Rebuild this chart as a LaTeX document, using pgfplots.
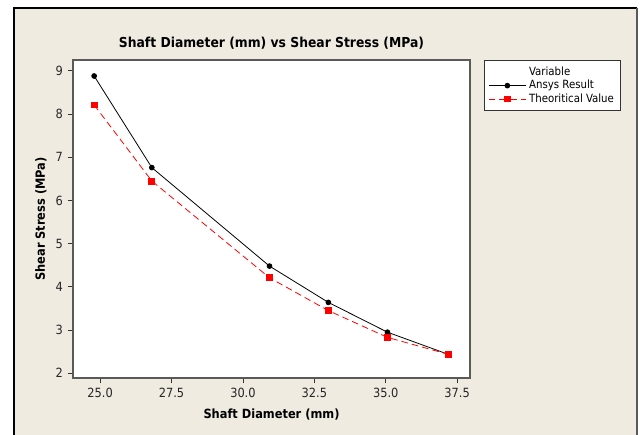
\documentclass[border=0pt]{standalone}
\usepackage{fontspec}
\setmainfont{DejaVu Sans Condensed}
\usepackage{pgfplots}
\pgfplotsset{compat=1.18}
\definecolor{bgc}{RGB}{239,235,225}
\definecolor{framec}{RGB}{90,90,90}

\begin{document}
\begin{tikzpicture}
% page and beige panel (1px = 0.75pt)
\fill[white] (0pt,0pt) rectangle (482.25pt,326.25pt);
\fill[bgc] (10.5pt,0pt) rectangle (477.75pt,320.25pt);
\draw[black,line width=0.8pt] (10.5pt,0pt) -- (10.5pt,320.25pt) -- (477.75pt,320.25pt);
\draw[framec,line width=1.5pt] (477.75pt,320.25pt) -- (477.75pt,0pt);
\begin{axis}[
  at={(54.75pt,42.75pt)}, anchor=south west, scale only axis,
  width=297.75pt, height=238.5pt,
  xmin=24.05, xmax=37.95, ymin=1.89, ymax=9.25,
  xtick={25,27.5,30,32.5,35,37.5},
  ytick={2,3,4,5,6,7,8,9},
  xticklabel style={/pgf/number format/.cd,fixed,fixed zerofill,precision=1},
  /pgf/number format/assume math mode=true,
  tick label style={font=\fontsize{9.5}{11}\selectfont, text=black!85},
  tick align=outside, tick pos=left,
  major tick length=4pt,
  axis background/.style={fill=white},
  axis line style={framec, line width=1.2pt},
  every tick/.style={black!80, line width=0.6pt},
  title={\bfseries Shaft Diameter (mm) vs Shear Stress (MPa)},
  title style={font=\fontsize{10.3}{12}\selectfont, yshift=-1.5pt},
  xlabel={\bfseries Shaft Diameter (mm)},
  ylabel={\bfseries Shear Stress (MPa)},
  label style={font=\fontsize{9.5}{11}\selectfont},
  xlabel style={yshift=-1.5pt},
  ylabel style={yshift=0pt},
  legend style={at={(1.035,1)}, anchor=north west, draw=black!80, line width=0.6pt,
    font=\fontsize{8.5}{10}\selectfont, inner sep=3pt, row sep=-2pt,
    legend cell align=left},
  legend image code/.code={
    \draw[mark repeat=2,mark phase=2,#1] plot coordinates {(0pt,0pt) (14pt,0pt) (28pt,0pt)};},
]
\addlegendimage{draw opacity=0, mark=none}
\addlegendentry{Variable}
\addplot[black, line width=0.6pt, mark=*, mark size=1.8pt] coordinates {
(24.79,8.88) (26.81,6.76) (30.93,4.48) (32.99,3.64) (35.06,2.95) (37.18,2.44)};
\addlegendentry{Ansys Result}
\addplot[red, line width=0.6pt, dash pattern=on 5pt off 3pt, mark=square*, mark size=2.2pt, mark options={solid}] coordinates {
(24.79,8.21) (26.81,6.45) (30.93,4.21) (32.99,3.45) (35.06,2.83) (37.18,2.44)};
\addlegendentry{Theoritical Value}
\end{axis}
\pgfresetboundingbox
\useasboundingbox (0pt,0pt) rectangle (482.25pt,326.25pt);
\end{tikzpicture}
\end{document}
